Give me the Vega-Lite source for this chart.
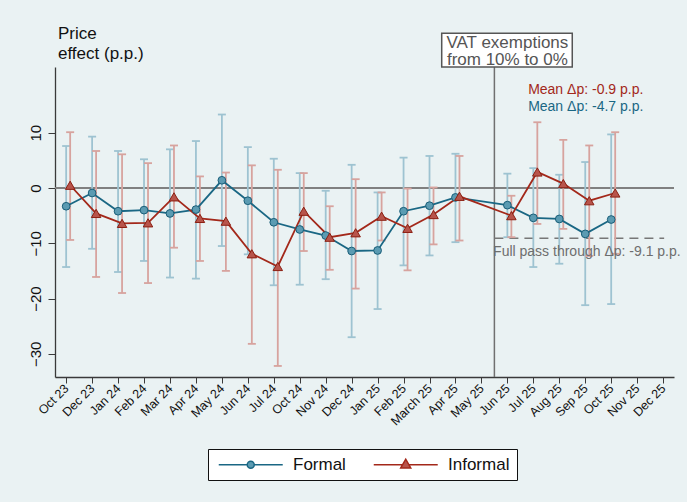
{
  "$schema": "https://vega.github.io/schema/vega-lite/v6.json",
  "width": 619,
  "height": 310,
  "autosize": "none",
  "padding": {"left": 55, "top": 67, "right": 13, "bottom": 125},
  "background": "#EAF2F3",
  "config": {
    "view": {"fill": "white", "stroke": null},
    "font": "Liberation Sans",
    "axis": {"grid": false, "labelOverlap": false, "domainColor": "#3a3a3a", "domainWidth": 1.3, "tickColor": "#3a3a3a", "labelColor": "#111111", "labelFont": "Liberation Sans"},
    "axisX": {"labelOverlap": false, "labelAngle": -45, "labelAlign": "right", "labelBaseline": "middle", "labelFontSize": 12.5, "tickSize": 6, "labelPadding": 3},
    "axisY": {"labelAngle": -90, "labelAlign": "center", "labelBaseline": "bottom", "labelFontSize": 15, "tickSize": 7, "labelPadding": 5},
    "legend": {"orient": "none", "legendX": 153, "legendY": 382, "direction": "horizontal", "fillColor": "white", "strokeColor": "#111111", "padding": 7, "labelFontSize": 17, "labelFont": "Liberation Sans", "labelColor": "#111111", "symbolSize": 64, "symbolStrokeWidth": 1.5, "labelOffset": 61, "columnPadding": 24}
  },
  "title": {"text": ["Price", "effect (p.p.)"], "anchor": "start", "frame": "group", "fontSize": 17, "fontWeight": "normal", "color": "#111111", "lineHeight": 20, "offset": -30, "dx": 3, "font": "Liberation Sans"},
  "data": {"values": [
    {"s": "Formal", "t": 0, "est": -3.3, "lo": -14.3, "hi": 7.6},
    {"s": "Formal", "t": 1, "est": -0.9, "lo": -11.0, "hi": 9.3},
    {"s": "Formal", "t": 2, "est": -4.2, "lo": -15.2, "hi": 6.7},
    {"s": "Formal", "t": 3, "est": -4.0, "lo": -13.2, "hi": 5.2},
    {"s": "Formal", "t": 4, "est": -4.6, "lo": -16.2, "hi": 7.0},
    {"s": "Formal", "t": 5, "est": -3.9, "lo": -16.4, "hi": 8.5},
    {"s": "Formal", "t": 6, "est": 1.4, "lo": -10.5, "hi": 13.3},
    {"s": "Formal", "t": 7, "est": -2.3, "lo": -12.0, "hi": 7.4},
    {"s": "Formal", "t": 8, "est": -6.2, "lo": -17.6, "hi": 5.3},
    {"s": "Formal", "t": 9, "est": -7.5, "lo": -17.5, "hi": 2.7},
    {"s": "Formal", "t": 10, "est": -8.6, "lo": -16.5, "hi": -0.5},
    {"s": "Formal", "t": 11, "est": -11.4, "lo": -27.0, "hi": 4.2},
    {"s": "Formal", "t": 12, "est": -11.3, "lo": -21.9, "hi": -0.8},
    {"s": "Formal", "t": 13, "est": -4.2, "lo": -14.0, "hi": 5.5},
    {"s": "Formal", "t": 14, "est": -3.2, "lo": -12.2, "hi": 5.8},
    {"s": "Formal", "t": 15, "est": -1.7, "lo": -9.8, "hi": 6.2},
    {"s": "Formal", "t": 17, "est": -3.1, "lo": -8.9, "hi": 2.6},
    {"s": "Formal", "t": 18, "est": -5.4, "lo": -14.3, "hi": 3.6},
    {"s": "Formal", "t": 19, "est": -5.6, "lo": -13.7, "hi": 2.4},
    {"s": "Formal", "t": 20, "est": -8.3, "lo": -21.2, "hi": 4.7},
    {"s": "Formal", "t": 21, "est": -5.7, "lo": -21.0, "hi": 9.7},
    {"s": "Informal", "t": 0, "est": 0.5, "lo": -9.4, "hi": 10.1},
    {"s": "Informal", "t": 1, "est": -4.6, "lo": -16.1, "hi": 6.7},
    {"s": "Informal", "t": 2, "est": -6.4, "lo": -19.0, "hi": 6.1},
    {"s": "Informal", "t": 3, "est": -6.3, "lo": -17.2, "hi": 4.5},
    {"s": "Informal", "t": 4, "est": -1.6, "lo": -10.8, "hi": 7.7},
    {"s": "Informal", "t": 5, "est": -5.5, "lo": -13.2, "hi": 2.1},
    {"s": "Informal", "t": 6, "est": -6.0, "lo": -15.0, "hi": 2.8},
    {"s": "Informal", "t": 7, "est": -11.9, "lo": -28.2, "hi": 4.1},
    {"s": "Informal", "t": 8, "est": -14.2, "lo": -32.2, "hi": 3.3},
    {"s": "Informal", "t": 9, "est": -4.2, "lo": -11.4, "hi": 2.7},
    {"s": "Informal", "t": 10, "est": -8.9, "lo": -14.8, "hi": -3.3},
    {"s": "Informal", "t": 11, "est": -8.1, "lo": -18.2, "hi": 1.6},
    {"s": "Informal", "t": 12, "est": -5.1, "lo": -9.5, "hi": -0.8},
    {"s": "Informal", "t": 13, "est": -7.3, "lo": -14.9, "hi": -0.1},
    {"s": "Informal", "t": 14, "est": -4.8, "lo": -10.2, "hi": 0.1},
    {"s": "Informal", "t": 15, "est": -1.5, "lo": -9.5, "hi": 5.8},
    {"s": "Informal", "t": 17, "est": -5.0, "lo": -8.9, "hi": -1.4},
    {"s": "Informal", "t": 18, "est": 2.9, "lo": -6.5, "hi": 11.9},
    {"s": "Informal", "t": 19, "est": 0.8, "lo": -7.4, "hi": 8.7},
    {"s": "Informal", "t": 20, "est": -2.3, "lo": -12.3, "hi": 7.7},
    {"s": "Informal", "t": 21, "est": -0.9, "lo": -11.9, "hi": 10.1}
  ]},
  "layer": [
    {
      "data": {"values": [{}]},
      "mark": {"type": "rule", "stroke": "#808080", "strokeWidth": 2},
      "encoding": {
        "y": {"datum": 0, "type": "quantitative", "scale": {"domain": [-34.2, 21.9], "nice": false, "zero": false},
          "axis": {"title": null, "values": [-30, -20, -10, 0, 10]}}
      }
    },
    {
      "data": {"values": [{}]},
      "mark": {"type": "rule", "stroke": "#707070", "strokeWidth": 1.5},
      "encoding": {
        "x": {"datum": 16.5, "type": "quantitative", "scale": {"domain": [-0.43, 23.42], "nice": false, "zero": false}}
      }
    },
    {
      "data": {"values": [{}]},
      "mark": {"type": "rule", "stroke": "#777777", "strokeWidth": 1.5, "strokeDash": [9, 6]},
      "encoding": {
        "x": {"datum": 16.5, "type": "quantitative"},
        "x2": {"datum": 23.04},
        "y": {"datum": -9.1, "type": "quantitative"}
      }
    },
    {
      "transform": [{"filter": "datum.s === 'Formal'"}],
      "mark": {"type": "rule", "stroke": "#9EC3D1", "strokeWidth": 1.8},
      "encoding": {
        "x": {"field": "t", "type": "quantitative",
          "axis": {"title": null, "values": [0,1,2,3,4,5,6,7,8,9,10,11,12,13,14,15,16,17,18,19,20,21,22,23], "tickCount": 24, "labelOverlap": false, "labelSeparation": 0,
            "labelExpr": "['Oct 23','Dec 23','Jan 24','Feb 24','Mar 24','Apr 24','May 24','Jun 24','Jul 24','Oct 24','Nov 24','Dec 24','Jan 25','Feb 25','March 25','Apr 25','May 25','Jun 25','Jul 25','Aug 25','Sep 25','Oct 25','Nov 25','Dec 25'][round(datum.value)]"}},
        "y": {"field": "lo", "type": "quantitative"}, "y2": {"field": "hi"}}
    },
    {
      "transform": [{"filter": "datum.s === 'Formal'"}],
      "mark": {"type": "tick", "orient": "horizontal", "color": "#9EC3D1", "size": 8, "thickness": 1.8, "opacity": 1},
      "encoding": {"x": {"field": "t", "type": "quantitative"}, "y": {"field": "lo", "type": "quantitative"}}
    },
    {
      "transform": [{"filter": "datum.s === 'Formal'"}],
      "mark": {"type": "tick", "orient": "horizontal", "color": "#9EC3D1", "size": 8, "thickness": 1.8, "opacity": 1},
      "encoding": {"x": {"field": "t", "type": "quantitative"}, "y": {"field": "hi", "type": "quantitative"}}
    },
    {
      "transform": [{"filter": "datum.s === 'Informal'"}],
      "mark": {"type": "rule", "stroke": "#D7A39E", "strokeWidth": 1.8, "xOffset": 4},
      "encoding": {"x": {"field": "t", "type": "quantitative"}, "y": {"field": "lo", "type": "quantitative"}, "y2": {"field": "hi"}}
    },
    {
      "transform": [{"filter": "datum.s === 'Informal'"}],
      "mark": {"type": "tick", "orient": "horizontal", "color": "#D7A39E", "size": 8, "thickness": 1.8, "opacity": 1, "xOffset": 4},
      "encoding": {"x": {"field": "t", "type": "quantitative"}, "y": {"field": "lo", "type": "quantitative"}}
    },
    {
      "transform": [{"filter": "datum.s === 'Informal'"}],
      "mark": {"type": "tick", "orient": "horizontal", "color": "#D7A39E", "size": 8, "thickness": 1.8, "opacity": 1, "xOffset": 4},
      "encoding": {"x": {"field": "t", "type": "quantitative"}, "y": {"field": "hi", "type": "quantitative"}}
    },
    {
      "transform": [{"filter": "datum.s === 'Formal'"}],
      "mark": {"type": "line", "stroke": "#1A6784", "strokeWidth": 1.8},
      "encoding": {"x": {"field": "t", "type": "quantitative"}, "y": {"field": "est", "type": "quantitative"}}
    },
    {
      "transform": [{"filter": "datum.s === 'Informal'"}],
      "mark": {"type": "line", "stroke": "#A3281A", "strokeWidth": 1.8, "xOffset": 4},
      "encoding": {"x": {"field": "t", "type": "quantitative"}, "y": {"field": "est", "type": "quantitative"}}
    },
    {
      "transform": [{"filter": "datum.s === 'Formal'"}],
      "mark": {"type": "point", "shape": "circle", "filled": true, "fill": "#5B9BB2", "stroke": "#1A5E78", "strokeWidth": 1, "size": 60, "opacity": 1},
      "encoding": {"x": {"field": "t", "type": "quantitative"}, "y": {"field": "est", "type": "quantitative"}}
    },
    {
      "transform": [{"filter": "datum.s === 'Informal'"}],
      "mark": {"type": "point", "shape": "triangle-up", "filled": true, "fill": "#B8544B", "stroke": "#8B1F12", "strokeWidth": 1, "size": 90, "opacity": 1, "xOffset": 4},
      "encoding": {"x": {"field": "t", "type": "quantitative"}, "y": {"field": "est", "type": "quantitative"}}
    },
    {
      "data": {"values": [{}]},
      "mark": {"type": "rect", "fill": "white", "stroke": "#555555", "strokeWidth": 1.5, "clip": false},
      "encoding": {
        "x": {"datum": 14.47, "type": "quantitative"},
        "x2": {"datum": 19.5},
        "y": {"datum": 28.0, "type": "quantitative"},
        "y2": {"datum": 21.9}
      }
    },
    {
      "data": {"values": [{}]},
      "mark": {"type": "text", "text": ["VAT exemptions", "from 10% to 0%"], "fontSize": 17, "lineHeight": 16.7, "align": "center", "baseline": "alphabetic", "color": "#555555", "clip": false},
      "encoding": {"x": {"datum": 17.0, "type": "quantitative"}, "y": {"datum": 25.28, "type": "quantitative"}}
    },
    {
      "data": {"values": [{}]},
      "mark": {"type": "text", "text": "Mean Δp: -0.9 p.p.", "fontSize": 14, "align": "left", "baseline": "alphabetic", "color": "#A3281A"},
      "encoding": {"x": {"datum": 17.8, "type": "quantitative"}, "y": {"datum": 16.96, "type": "quantitative"}}
    },
    {
      "data": {"values": [{}]},
      "mark": {"type": "text", "text": "Mean Δp: -4.7 p.p.", "fontSize": 14, "align": "left", "baseline": "alphabetic", "color": "#1A6784"},
      "encoding": {"x": {"datum": 17.8, "type": "quantitative"}, "y": {"datum": 13.99, "type": "quantitative"}}
    },
    {
      "data": {"values": [{}]},
      "mark": {"type": "text", "text": "Full pass through Δp: -9.1 p.p.", "fontSize": 14, "align": "left", "baseline": "alphabetic", "color": "#6E6E6E", "clip": false},
      "encoding": {"x": {"datum": 16.45, "type": "quantitative"}, "y": {"datum": -12.36, "type": "quantitative"}}
    },
    {
      "transform": [{"filter": "false"}],
      "mark": {"type": "point", "filled": true, "strokeWidth": 1.5, "opacity": 1},
      "encoding": {
        "shape": {"field": "s", "type": "nominal", "title": null, "scale": {"domain": ["Formal", "Informal"], "range": [
          "M-1.19,0H5.935M7.685,0H14.81M5.935,0A0.875,0.875,0,1,1,7.685,0A0.875,0.875,0,1,1,5.935,0Z",
          "M-1.19,0H6.01M7.61,0H14.81M5.56,0.8L6.81,-1.4L8.06,0.8Z"
        ]}},
        "fill": {"field": "s", "type": "nominal", "title": null, "scale": {"domain": ["Formal", "Informal"], "range": ["#5B9BB2", "#B8544B"]}},
        "stroke": {"field": "s", "type": "nominal", "title": null, "scale": {"domain": ["Formal", "Informal"], "range": ["#1A6784", "#A3281A"]}}
      }
    }
  ]
}
